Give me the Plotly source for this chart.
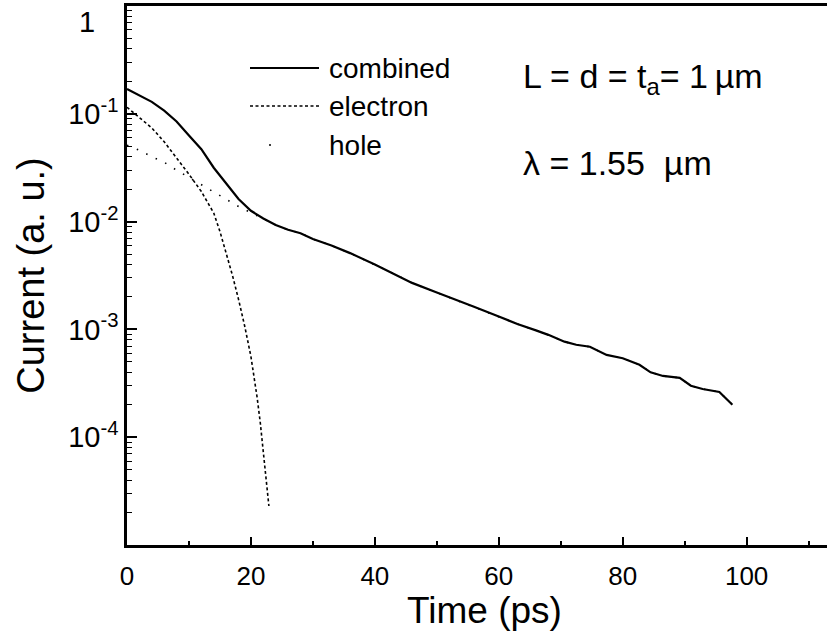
import plotly.graph_objects as go

# combined current (solid)
t_combined = [0, 2, 4, 6, 8, 10, 12, 14, 16, 18, 20, 22, 24, 26, 28, 30, 33, 36, 40, 43, 46,
              50, 53, 56, 60, 63, 66, 68, 70.6, 72.5, 74.7, 77.4, 80, 82.7, 84.5, 86.5, 89.2,
              91, 92.9, 95.6, 97.7]
i_combined = [0.17, 0.148, 0.129, 0.107, 0.085, 0.063, 0.047, 0.0316, 0.0224, 0.0162, 0.0126,
              0.0107, 0.0093, 0.0084, 0.0078, 0.0069, 0.0060, 0.0051, 0.0040, 0.0033, 0.0027,
              0.0022, 0.0019, 0.00162, 0.00132, 0.00112, 0.00098, 0.00089, 0.00077, 0.00072,
              0.00069, 0.00058, 0.00054, 0.00047, 0.00040, 0.00037, 0.000355, 0.00030,
              0.00028, 0.000263, 0.0002]

# electron current (dashed)
t_electron = [0, 2, 4, 6, 8, 10, 12, 14, 15, 16, 17, 18, 19, 20, 20.5, 21, 21.5, 22, 22.5, 22.9]
i_electron = [0.115, 0.093, 0.074, 0.055, 0.039, 0.0275, 0.019, 0.012, 0.0081, 0.0052, 0.0032,
              0.0019, 0.00107, 0.00056, 0.00037, 0.000234, 0.000138, 7.6e-5, 4.1e-5, 2.3e-5]

# hole current (sparse dots); after ~22 ps it lies under the combined curve
t_hole = [0, 2, 4, 6, 8, 10, 12, 14, 16, 18, 20, 22, 24, 26, 28, 30, 33, 36, 40, 43, 46,
          50, 53, 56, 60, 63, 66, 68, 70.6, 72.5, 74.7, 77.4, 80, 82.7, 84.5, 86.5, 89.2,
          91, 92.9, 95.6, 97.7]
i_hole = [0.051, 0.046, 0.040, 0.0355, 0.030, 0.0257, 0.0219, 0.0186, 0.0162, 0.0138, 0.0121,
          0.0106, 0.0093, 0.0084, 0.0078, 0.0069, 0.0060, 0.0051, 0.0040, 0.0033, 0.0027,
          0.0022, 0.0019, 0.00162, 0.00132, 0.00112, 0.00098, 0.00089, 0.00077, 0.00072,
          0.00069, 0.00058, 0.00054, 0.00047, 0.00040, 0.00037, 0.000355, 0.00030,
          0.00028, 0.000263, 0.0002]

y_tickvals = [1, 0.1, 0.01, 0.001, 0.0001, 0.00001]
y_ticktext = ["", "10<sup>-1</sup>", "10<sup>-2</sup>", "10<sup>-3</sup>", "10<sup>-4</sup>", ""]
x_tickvals = [0, 20, 40, 60, 80, 100]

FONT = "Arial, Liberation Sans, sans-serif"

# plot area in page pixels; the right end runs past the window edge, as in the scan
W, H = 834, 636
L, R, T, B = 127, 834, 6, 545


def px(x):
    return (x - L) / (R - L)


def py(y):
    return (B - y) / (B - T)


fig = go.Figure()
fig.add_trace(go.Scatter(x=t_hole, y=i_hole, mode="lines",
                         line=dict(color="black", width=1.6, dash="1.5px,9px")))
fig.add_trace(go.Scatter(x=t_electron, y=i_electron, mode="lines",
                         line=dict(color="black", width=1.6, dash="3px,2.5px")))
fig.add_trace(go.Scatter(x=t_combined, y=i_combined, mode="lines",
                         line=dict(color="black", width=2.2)))

minor_y = [m * 10 ** k for k in range(-5, 0) for m in range(2, 10)]

fig.update_layout(
    width=W, height=H,
    margin=dict(l=L, r=W - R, t=T, b=H - B),
    paper_bgcolor="white", plot_bgcolor="white",
    showlegend=False,
    font=dict(family=FONT, color="black"),
    xaxis=dict(
        range=[0, 114.1], showgrid=False, zeroline=False,
        showline=True, linecolor="black", linewidth=2.5, mirror=True,
        ticks="inside", ticklen=8, tickwidth=1.5, tickcolor="black",
        tickvals=x_tickvals, tickfont=dict(size=26), ticklabelstandoff=6,
        minor=dict(ticks="inside", ticklen=4, tickwidth=1.5, tickcolor="black", dtick=10, showgrid=False),
    ),
    yaxis=dict(
        type="log", range=[-5, 0], showgrid=False, zeroline=False,
        showline=True, linecolor="black", linewidth=2.5,
        ticks="inside", ticklen=10, tickwidth=1.5, tickcolor="black",
        tickvals=y_tickvals, ticktext=y_ticktext, tickfont=dict(size=29),
        minor=dict(ticks="inside", ticklen=5, tickwidth=1.3, tickcolor="black",
                   tickmode="array", tickvals=minor_y, showgrid=False),
        title=dict(text="Current (a. u.)", font=dict(size=38), standoff=12),
    ),
)

# "1" label of the top decade sits a little below the frame
fig.add_annotation(x=px(97), y=py(22), xref="paper", yref="paper", text="1",
                   showarrow=False, xanchor="right", yanchor="middle", font=dict(size=29))

# x axis title
fig.add_annotation(x=px(484), y=py(610), xref="paper", yref="paper", text="Time (ps)",
                   showarrow=False, xanchor="center", yanchor="middle", font=dict(size=37))

# legend drawn as in the figure: sample line, then label
legend_rows = [("combined", 68, None), ("electron", 106, "3px,2.5px"), ("hole", 145, "dot")]
for label, yy, dash in legend_rows:
    if dash == "dot":
        fig.add_shape(type="circle", xref="paper", yref="paper",
                      x0=px(269), x1=px(271), y0=py(146), y1=py(144),
                      fillcolor="black", line=dict(width=0))
    else:
        fig.add_shape(type="line", xref="paper", yref="paper",
                      x0=px(250), x1=px(319), y0=py(yy), y1=py(yy),
                      line=dict(color="black", width=2 if dash is None else 1.4, dash=dash or "solid"))
    fig.add_annotation(x=px(327), y=py(yy), xref="paper", yref="paper",
                       text=label, showarrow=False, xanchor="left", yanchor="middle",
                       font=dict(size=28))

fig.add_annotation(x=px(521), y=py(78), xref="paper", yref="paper",
                   text="L = d = t<sub>a</sub>= 1\u2009µm", showarrow=False,
                   xanchor="left", yanchor="middle", font=dict(size=34))
fig.add_annotation(x=px(521), y=py(163), xref="paper", yref="paper",
                   text="λ = 1.55&nbsp;&nbsp;µm", showarrow=False,
                   xanchor="left", yanchor="middle", font=dict(size=34))

# drop the page's default body margin and scrollbars so the figure sits at the window's corner
fig.write_html("out.html", config={"displayModeBar": False},
               post_script="document.body.style.margin = '0'; document.body.style.overflow = 'hidden';")
